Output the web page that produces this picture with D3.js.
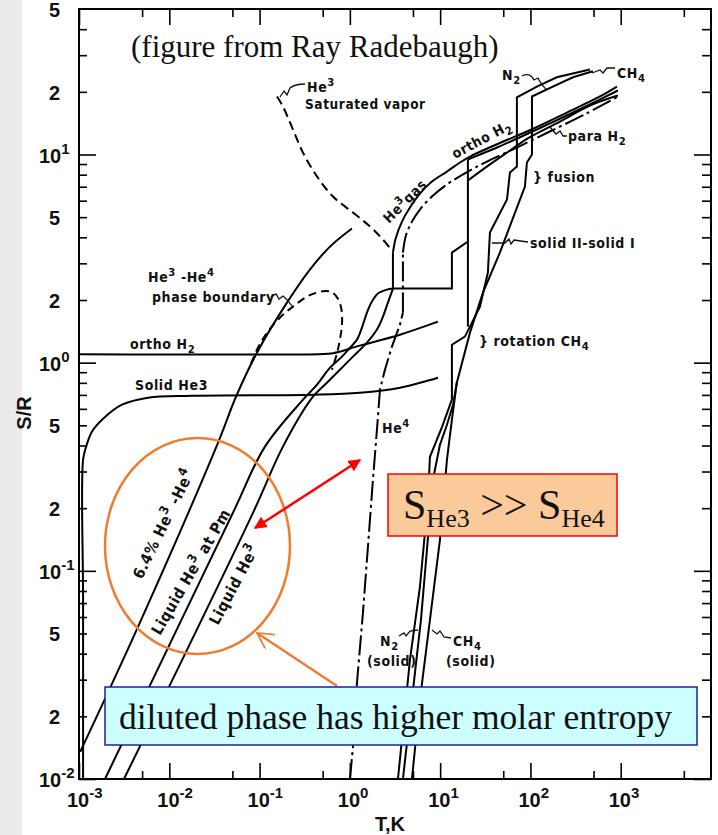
<!DOCTYPE html>
<html>
<head>
<meta charset="utf-8">
<script src="https://cdn.jsdelivr.net/npm/d3@7"></script>
<style>
  body { margin: 0; background: #fff; }
  .lbl { font-family: "DejaVu Sans Condensed", "DejaVu Sans", sans-serif; font-weight: bold; font-size: 14px; letter-spacing: 0.6px; fill: #111; }
  .ax { font-family: "Liberation Sans", Arial, sans-serif; font-weight: bold; font-size: 20px; fill: #111; }
  .tick line { stroke: #000; stroke-width: 1.6; }
</style>
</head>
<body>
<div id="chart"></div>
<script>
// tick values
var xMajor = [1e-3, 1e-2, 1e-1, 1, 10, 100, 1000];
var xMinor = [5e-3, 5e-2, 0.5, 5, 50, 500, 5000];
var yMajor = [0.01, 0.1, 1, 10];
var yMinor = [0.02, 0.03, 0.04, 0.05, 0.06, 0.07, 0.08, 0.09,
              0.2, 0.3, 0.4, 0.5, 0.6, 0.7, 0.8, 0.9,
              2, 3, 4, 5, 6, 7, 8, 9, 20, 30, 40];
var yLabelValues = [0.01, 0.02, 0.05, 0.1, 0.2, 0.5, 1, 2, 5, 10, 20, 50];

// curves, [T (K), S/R]
var solidHe3 = [[0.00111,0.0100],[0.00111,0.0726],[0.00111,0.342],[0.00120,0.395],[0.00139,0.466],[0.00180,0.532],[0.00299,0.628],[0.00581,0.679],[0.0178,0.694],[0.411,0.702],[1.29,0.717],[3.59,0.758],[9.46,0.847]];
var orthoH2Solid = [[0.001,1.099],[0.45,1.099],[0.65,1.11],[1.29,1.207],[3.59,1.363],[9.46,1.574]];
var mix64 = [[0.00103,0.0135],[0.00450,0.0538],[0.0346,0.412],[0.0548,0.686],[0.0936,1.117],[0.201,1.942],[0.361,2.80],[0.603,3.61],[1.054,4.41]];
var liquidHe3Pm = [[0.00194,0.0100],[0.0507,0.190],[0.1148,0.395],[0.303,0.664],[0.433,0.784],[0.603,0.946],[0.818,1.069],[1.003,1.180],[1.199,1.29],[1.361,1.474],[1.546,1.740],[1.757,1.965],[2.047,2.147],[2.574,2.244],[3.00,2.269]];
var liquidHe3 = [[0.00315,0.0100],[0.0845,0.190],[0.1815,0.395],[0.390,0.686],[0.557,0.801],[0.776,0.925],[1.082,1.069],[1.546,1.248],[1.995,1.442],[2.327,1.664],[2.64,1.942],[3.00,2.269]];
var he3Boil = [[3.00,2.269],[3.00,3.38]];
var he3Gas = [[3.00,3.38],[3.24,3.99],[3.78,4.76],[4.63,5.56],[5.97,6.49],[8.11,7.41],[11.9,8.28],[16.6,9.15],[21.4,9.78],[42.6,11.2],[107,13.3],[254,15.9],[589,19.0],[908,21.2]];
var he3SatVapor = [[0.156,19.0],[0.1815,17.0],[0.234,13.2],[0.303,10.2],[0.433,7.84],[0.650,6.28],[1.082,5.26],[1.67,4.51],[2.33,3.90],[2.93,3.45]];
var phaseBoundary = [[0.0804,0.989],[0.0959,1.18],[0.121,1.394],[0.168,1.645],[0.234,1.859],[0.335,2.076],[0.433,2.171],[0.530,2.207],[0.634,2.18],[0.738,2.03],[0.807,1.80],[0.818,1.523],[0.776,1.29],[0.719,1.105],[0.634,0.925]];
var he4Liquid = [[1.003,0.0100],[1.082,0.01426],[1.199,0.0290],[1.396,0.0628],[1.585,0.130],[1.802,0.274],[1.995,0.476],[2.155,0.742],[2.447,0.925],[2.925,1.194],[3.59,1.523],[3.87,1.740]];
var he4Boil = [[3.87,1.740],[3.87,3.38]];
var he4Gas = [[3.87,3.38],[4.18,4.08],[4.87,4.76],[5.97,5.44],[8.11,6.28],[11.9,7.18],[20.3,8.28],[33.0,9.25],[70.8,10.8],[164,12.9],[402,15.6],[931,19.0]];
var h2Solid = [[3.00,2.269],[13.5,2.269],[13.5,3.38],[20.3,3.82],[20.3,9.46]];
var h2Gas = [[20.3,9.46],[27.6,10.0],[42.6,10.8],[76.5,12.1],[164,14.1],[353,16.5],[931,20.3]];
var paraH2 = [[20.3,7.50],[35.6,8.96],[59.3,10.45],[91.4,11.9],[212,14.4],[456,17.2],[931,19.2]];
var rotationStep = [[20.3,1.490],[20.3,3.82]];
var n2 = [[3.41,0.0100],[4.63,0.0373],[5.97,0.0838],[7.33,0.219],[7.71,0.353],[10.5,0.492],[13.5,0.664],[13.5,1.22],[18.8,1.334],[21.4,1.490],[27.6,1.859],[33.8,2.71],[35.6,4.22],[55.0,6.08],[59.3,8.19],[70.8,8.75],[70.8,18.8],[118,21.2],[196,23.5],[456,25.6]];
var n2Lower = [[3.87,0.0100],[6.13,0.0581],[8.32,0.274],[9.95,0.403],[11.9,0.503],[13.9,0.628],[15.3,0.801]];
var ch4 = [[4.87,0.0100],[5.97,0.0240],[7.71,0.0581],[9.95,0.141],[11.9,0.342],[13.5,0.532],[15.3,0.801],[21.4,1.394],[29.8,2.171],[45.9,3.38],[86.9,7.02],[91.4,9.15],[104,10.0],[104,19.0],[177,21.2],[296,23.5],[492,25.1]];

var width = 718, height = 835;

var svg = d3.select("#chart")
  .append("svg")
    .attr("width", width)
    .attr("height", height);

// grey page edge
svg.append("rect").attr("x", 0).attr("y", 0).attr("width", 22).attr("height", height).attr("fill", "#ebebeb");

var x = d3.scaleLog().domain([1e-3, 1e4]).range([79, 711]);
var y = d3.scaleLog().domain([0.01, 50]).range([779, 9]);

// axes, ticks pointing inward
function ticks(gen, vals, size, tr) {
  svg.append("g")
    .attr("transform", tr)
    .call(gen.tickValues(vals).tickSize(size).tickSizeOuter(0).tickFormat(""))
    .call(function(g) { g.select(".domain").remove(); });
}
ticks(d3.axisBottom(x), xMajor, -16, "translate(0,779)");
ticks(d3.axisBottom(x), xMinor, -8, "translate(0,779)");
ticks(d3.axisTop(x), xMajor, -16, "translate(0,9)");
ticks(d3.axisTop(x), xMinor, -8, "translate(0,9)");
ticks(d3.axisLeft(y), yMajor, -17, "translate(79,0)");
ticks(d3.axisLeft(y), yMinor, -8, "translate(79,0)");
ticks(d3.axisRight(y), yMajor, -17, "translate(711,0)");
ticks(d3.axisRight(y), yMinor, -9, "translate(711,0)");

svg.append("rect")
  .attr("x", 79).attr("y", 9)
  .attr("width", 632).attr("height", 770)
  .attr("fill", "none").attr("stroke", "#000").attr("stroke-width", 2);

// tick labels
function pow10(px, py, v) {
  var t = svg.append("text").attr("class", "ax").attr("x", px).attr("y", py);
  t.append("tspan").text("10");
  t.append("tspan").attr("dy", -9).attr("font-size", 15).text(String(Math.round(Math.log10(v))));
}
xMajor.forEach(function(v) { pow10(x(v) - 12, 807, v); });
yLabelValues.forEach(function(v) {
  var e = Math.log10(v);
  if (Math.abs(e - Math.round(e)) < 1e-9) {
    pow10(39, y(v) + 8, v);
  } else {
    svg.append("text").attr("class", "ax").attr("x", 60).attr("y", y(v) + 8)
      .attr("text-anchor", "end").text(String(Math.round(v / Math.pow(10, Math.floor(e)))));
  }
});
svg.append("text").attr("class", "ax").attr("x", 375).attr("y", 831).text("T,K");
svg.append("text").attr("class", "ax")
  .attr("transform", "translate(31,413) rotate(-90)")
  .attr("text-anchor", "middle").text("S/R");

// curves
var smooth = d3.line().x(function(d) { return x(d[0]); }).y(function(d) { return y(d[1]); })
  .curve(d3.curveCatmullRom.alpha(0.5));
var straight = d3.line().x(function(d) { return x(d[0]); }).y(function(d) { return y(d[1]); });

var curves = [
  {d: solidHe3, line: smooth},
  {d: orthoH2Solid, line: smooth},
  {d: mix64, line: smooth},
  {d: liquidHe3Pm, line: smooth},
  {d: liquidHe3, line: smooth},
  {d: he3Boil, line: straight},
  {d: he3Gas, line: smooth},
  {d: he3SatVapor, line: smooth, dash: "9,5"},
  {d: phaseBoundary, line: smooth, dash: "8,5"},
  {d: he4Liquid, line: straight, dash: "20,4,3,4"},
  {d: he4Boil, line: straight, dash: "20,4,3,4"},
  {d: he4Gas, line: smooth, dash: "20,4,3,4"},
  {d: h2Solid, line: straight},
  {d: h2Gas, line: smooth},
  {d: paraH2, line: smooth},
  {d: rotationStep, line: straight},
  {d: n2, line: straight},
  {d: n2Lower, line: straight},
  {d: ch4, line: straight}
];
curves.forEach(function(c) {
  svg.append("path")
    .attr("d", c.line(c.d))
    .attr("fill", "none")
    .attr("stroke", "#000")
    .attr("stroke-width", 2)
    .attr("stroke-dasharray", c.dash || null);
});

// labels inside the plot
function lbl(px, py, parts, rot, size) {
  var t = svg.append("text").attr("class", "lbl");
  if (size) t.style("font-size", size + "px");
  var s0 = size || 14;
  if (rot) t.attr("transform", "translate(" + px + "," + py + ") rotate(" + rot + ")");
  else t.attr("x", px).attr("y", py);
  parts.forEach(function(p) {
    var s = t.append("tspan").text(p[0]);
    if (p[1] == "sup") s.attr("dy", -s0 * 0.43).attr("font-size", s0 * 0.8);
    if (p[1] == "sub") s.attr("dy", s0 * 0.3).attr("font-size", s0 * 0.8);
    if (p[1] == "up") s.attr("dy", s0 * 0.43);
    if (p[1] == "down") s.attr("dy", -s0 * 0.3);
  });
  return t;
}
function squiggle(dstr) {
  svg.append("path").attr("d", dstr).attr("fill", "none").attr("stroke", "#111").attr("stroke-width", 1.3);
}

svg.append("text")
  .attr("x", 131).attr("y", 57)
  .attr("font-family", "Liberation Serif, Times New Roman, serif")
  .attr("font-size", 31).attr("fill", "#111")
  .text("(figure from Ray Radebaugh)");

lbl(307, 92, [["He"], ["3", "sup"]]);
lbl(305, 109, [["Saturated vapor"]], null, 13.5);
squiggle("M280,97 L284,91 L287,95 L290,88 Q295,84 305,84");
lbl(389, 224, [["He"], ["3", "sup"], ["gas", "up"]], -45);
lbl(455, 159, [["ortho H"], ["2", "sub"]], -28);
lbl(502, 80, [["N"], ["2", "sub"]]);
squiggle("M522,76 Q530,72 534,80 L538,78 Q542,86 547,90");
lbl(617, 78, [["CH"], ["4", "sub"]]);
squiggle("M592,73 L600,70 L603,73 L607,68 L615,68");
lbl(568, 141, [["para H"], ["2", "sub"]]);
squiggle("M550,127 L556,134 L560,131 L563,136 L567,136");
lbl(533, 182, [["} fusion"]]);
lbl(530, 248, [["solid II-solid I"]]);
squiggle("M492,243 L505,243 L509,239 L511,244 L514,240 Q520,241 528,242");
lbl(479, 346, [["} rotation CH"], ["4", "sub"]]);
lbl(130, 349, [["ortho H"], ["2", "sub"]]);
lbl(135, 390, [["Solid He3"]]);
lbl(148, 282, [["He"], ["3", "sup"], [" -He", "up"], ["4", "sup"]]);
lbl(152, 302, [["phase boundary"]]);
squiggle("M271,297 L276,294 L279,299 L283,296 Q288,300 292,306");
lbl(382, 433, [["He"], ["4", "sup"]]);
lbl(380, 646, [["N"], ["2", "sub"]]);
lbl(367, 666, [["(solid)"]]);
squiggle("M399,636 L404,633 L406,636 L410,631 L418,630");
lbl(453, 646, [["CH"], ["4", "sub"]]);
lbl(446, 666, [["(solid)"]]);
squiggle("M432,630 L437,634 L440,631 L444,637 L451,638");
lbl(142, 580, [["6.4% He"], ["3", "sup"], [" -He", "up"], ["4", "sup"]], -64, 15.5);
lbl(160, 636, [["Liquid He"], ["3", "sup"], ["  at Pm", "up"]], -60, 15.5);
lbl(218, 626, [["Liquid He"], ["3", "sup"]], -62, 15.5);

// slide annotations
var orange = "#ed7d31";
svg.append("ellipse")
  .attr("cx", 197.5).attr("cy", 546).attr("rx", 92.5).attr("ry", 108)
  .attr("fill", "none").attr("stroke", orange).attr("stroke-width", 2.5);

var defs = svg.append("defs");
defs.append("marker").attr("id", "redhead").attr("viewBox", "0 0 10 10")
  .attr("refX", 9).attr("refY", 5).attr("markerWidth", 5).attr("markerHeight", 5)
  .attr("markerUnits", "strokeWidth").attr("orient", "auto-start-reverse")
  .append("path").attr("d", "M0,0 L10,5 L0,10 Z").attr("fill", "#ff0000");
defs.append("marker").attr("id", "openhead").attr("viewBox", "0 0 12 12")
  .attr("refX", 11).attr("refY", 6).attr("markerWidth", 7).attr("markerHeight", 7)
  .attr("markerUnits", "strokeWidth").attr("orient", "auto")
  .append("path").attr("d", "M0,0 L11,6 L0,12").attr("fill", "none").attr("stroke", orange).attr("stroke-width", 1.2);

svg.append("line")
  .attr("x1", 255).attr("y1", 528).attr("x2", 360).attr("y2", 460)
  .attr("stroke", "#ff0000").attr("stroke-width", 2.5)
  .attr("marker-start", "url(#redhead)").attr("marker-end", "url(#redhead)");
svg.append("line")
  .attr("x1", 337).attr("y1", 686).attr("x2", 257).attr("y2", 633)
  .attr("stroke", orange).attr("stroke-width", 2.5)
  .attr("marker-end", "url(#openhead)");

svg.append("rect")
  .attr("x", 388).attr("y", 474).attr("width", 229).attr("height", 62)
  .attr("fill", "#fbca9b").attr("stroke", "#ff0000").attr("stroke-width", 1.5);
var st = svg.append("text").attr("x", 403).attr("y", 519)
  .attr("font-family", "Liberation Serif, Times New Roman, serif").attr("font-size", 42).attr("fill", "#111");
st.append("tspan").text("S");
st.append("tspan").attr("font-size", 26).attr("dy", 8).text("He3");
st.append("tspan").attr("dy", -8).text(" >> S");
st.append("tspan").attr("font-size", 26).attr("dy", 8).text("He4");

svg.append("rect")
  .attr("x", 105).attr("y", 687).attr("width", 592).attr("height", 58)
  .attr("fill", "#ccffff").attr("stroke", "#1f1f9f").attr("stroke-width", 1.5);
svg.append("text").attr("x", 119).attr("y", 729)
  .attr("font-family", "Liberation Serif, Times New Roman, serif").attr("font-size", 35.5).attr("fill", "#111")
  .text("diluted phase has higher molar entropy");
</script>
</body>
</html>
